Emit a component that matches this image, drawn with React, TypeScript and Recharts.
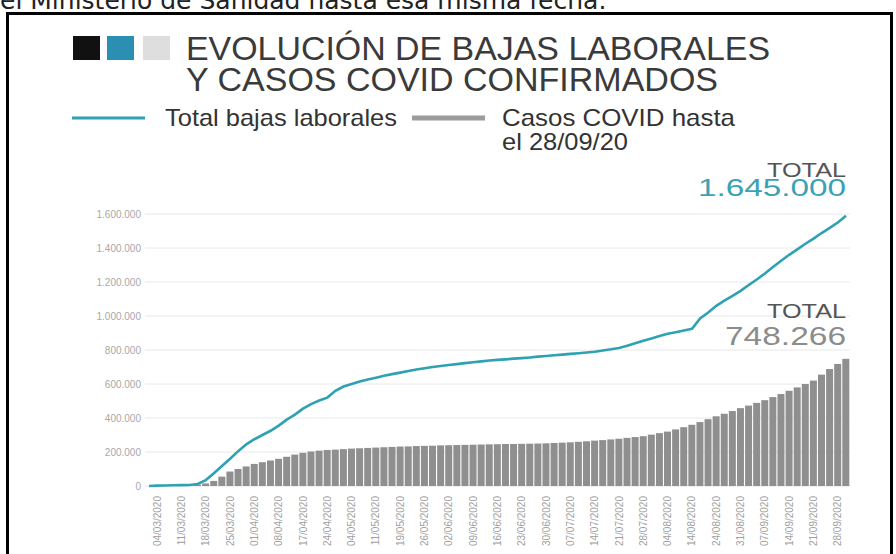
import { ComposedChart, Bar, Line, XAxis, YAxis, CartesianGrid } from "recharts";

const dateLabels = [
  "04/03/2020", "11/03/2020", "18/03/2020", "25/03/2020", "01/04/2020", "08/04/2020",
  "17/04/2020", "24/04/2020", "04/05/2020", "11/05/2020", "19/05/2020", "26/05/2020",
  "02/06/2020", "09/06/2020", "16/06/2020", "23/06/2020", "30/06/2020", "07/07/2020",
  "14/07/2020", "21/07/2020", "28/07/2020", "04/08/2020", "14/08/2020", "24/08/2020",
  "31/08/2020", "07/09/2020", "14/09/2020", "21/09/2020", "28/09/2020",
];

// total bajas laborales (line)
const bajas = [
  0, 2000, 3000, 4000, 5000, 6000, 12000, 35000, 75000, 118000,
  160000, 205000, 245000, 275000, 300000, 325000, 355000, 390000, 420000, 455000,
  482000, 503000, 520000, 560000, 585000, 600000, 615000, 627000, 637000, 648000,
  658000, 667000, 676000, 685000, 693000, 700000, 706000, 712000, 717000, 723000,
  728000, 733000, 738000, 742000, 745000, 749000, 752000, 756000, 761000, 765000,
  769000, 773000, 777000, 781000, 785000, 790000, 797000, 804000, 812000, 825000,
  840000, 855000, 868000, 882000, 895000, 905000, 915000, 925000, 985000, 1020000,
  1060000, 1090000, 1118000, 1148000, 1182000, 1215000, 1250000, 1288000, 1325000, 1360000,
  1392000, 1425000, 1455000, 1488000, 1518000, 1550000, 1590000,
];

// casos COVID (bars)
const casos = [
  0, 1000, 1500, 2000, 2500, 4000, 8000, 15000, 30000, 55000,
  85000, 100000, 115000, 130000, 140000, 150000, 160000, 172000, 185000, 195000,
  203000, 208000, 212000, 214000, 217000, 220000, 222000, 224000, 226000, 228000,
  230000, 232000, 233000, 235000, 236000, 237000, 239000, 240000, 241000, 242000,
  243000, 244000, 245000, 246000, 247000, 247000, 248000, 249000, 250000, 251000,
  253000, 255000, 257000, 260000, 263000, 267000, 270000, 274000, 278000, 283000,
  288000, 293000, 302000, 311000, 320000, 333000, 346000, 360000, 376000, 393000,
  410000, 425000, 441000, 458000, 473000, 489000, 505000, 523000, 541000, 560000,
  580000, 600000, 620000, 655000, 688000, 718000, 748000,
];

const yTicks = [0, 200000, 400000, 600000, 800000, 1000000, 1200000, 1400000, 1600000];

const data = bajas.map((b, i) => ({ i, bajas: b, casos: casos[i] }));
const xTicks = dateLabels.map((_, k) => 3 * k + 1);

const font = "'Liberation Sans', Arial, Helvetica, sans-serif";
const teal = "#2ea2b2";

const fmt = (v: number) => String(v).replace(/\B(?=(\d{3})+(?!\d))/g, ".");

function DateTick({ x, y, payload }: any) {
  const label = dateLabels[(payload.value - 1) / 3] ?? "";
  const ty = y + 2;
  return (
    <text
      x={x}
      y={ty}
      transform={`rotate(-90, ${x}, ${ty})`}
      textAnchor="end"
      dominantBaseline="central"
      fontSize={10}
      fill="#a0a0a0"
      fontFamily={font}
    >
      {label}
    </text>
  );
}

export default function App() {
  return (
    <div style={{ position: "absolute", left: 0, top: 0, width: 896, height: 554, overflow: "hidden", background: "#fff" }}>
      <div style={{ position: "absolute", left: 6, top: 12, width: 881, height: 600, border: "3px solid #000" }} />
      <div style={{ position: "absolute", left: 0, top: 0 }}>
        <ComposedChart
          width={896}
          height={554}
          data={data}
          margin={{ top: 214, right: 46, bottom: 0, left: 100 }}
          barCategoryGap="5%"
        >
          <CartesianGrid vertical={false} stroke="#e8e8e8" />
          <XAxis
            dataKey="i"
            type="category"
            ticks={xTicks}
            interval={0}
            height={68}
            tick={<DateTick />}
            tickLine={false}
            axisLine={false}
          />
          <YAxis
            type="number"
            domain={[0, 1600000]}
            ticks={yTicks}
            interval={0}
            width={45}
            tickFormatter={fmt}
            tick={{ fontSize: 10, fill: "#a8a8a8", fontFamily: font }}
            tickLine={false}
            axisLine={false}
            tickSize={2}
            tickMargin={2}
          />
          <Bar dataKey="casos" fill="#8f8f8f" isAnimationActive={false} />
          <Line
            dataKey="bajas"
            type="linear"
            stroke={teal}
            strokeWidth={2.6}
            dot={false}
            activeDot={false}
            isAnimationActive={false}
          />
        </ComposedChart>
      </div>
      <svg width={896} height={554} style={{ position: "absolute", left: 0, top: 0, pointerEvents: "none" }}>
        <text x={0} y={9} fontSize={25} fill="#222" fontFamily="'DejaVu Sans', Verdana, sans-serif">
          el Ministerio de Sanidad hasta esa misma fecha.
        </text>
        <rect x={73} y={36} width={27} height={24} fill="#111" />
        <rect x={107} y={36} width={27} height={24} fill="#2a8fb3" />
        <rect x={143} y={36} width={27} height={24} fill="#dedede" />
        <text x={186} y={60} fontSize={33} fill="#3a3a3a" fontFamily={font} textLength={584} lengthAdjust="spacingAndGlyphs">
          EVOLUCIÓN DE BAJAS LABORALES
        </text>
        <text x={186} y={91} fontSize={33} fill="#3a3a3a" fontFamily={font} textLength={532} lengthAdjust="spacingAndGlyphs">
          Y CASOS COVID CONFIRMADOS
        </text>
        <line x1={72} y1={118} x2={145} y2={118} stroke={teal} strokeWidth={3} />
        <text x={165} y={126} fontSize={24} fill="#333" fontFamily={font} textLength={232} lengthAdjust="spacingAndGlyphs">
          Total bajas laborales
        </text>
        <line x1={412} y1={118} x2={485} y2={118} stroke="#9c9c9c" strokeWidth={5} />
        <text x={502} y={126} fontSize={24} fill="#333" fontFamily={font} textLength={233} lengthAdjust="spacingAndGlyphs">
          Casos COVID hasta
        </text>
        <text x={502} y={150} fontSize={24} fill="#333" fontFamily={font} textLength={126} lengthAdjust="spacingAndGlyphs">
          el 28/09/20
        </text>
        <text x={767} y={177} fontSize={20} fill="#555" fontFamily={font} textLength={79} lengthAdjust="spacingAndGlyphs">
          TOTAL
        </text>
        <text x={698} y={196} fontSize={23} fill="#3aa2b4" fontFamily={font} textLength={148} lengthAdjust="spacingAndGlyphs">
          1.645.000
        </text>
        <text x={767} y={318} fontSize={20} fill="#555" fontFamily={font} textLength={79} lengthAdjust="spacingAndGlyphs">
          TOTAL
        </text>
        <text x={725} y={345} fontSize={25} fill="#8c8c8c" fontFamily={font} textLength={121} lengthAdjust="spacingAndGlyphs">
          748.266
        </text>
      </svg>
    </div>
  );
}
